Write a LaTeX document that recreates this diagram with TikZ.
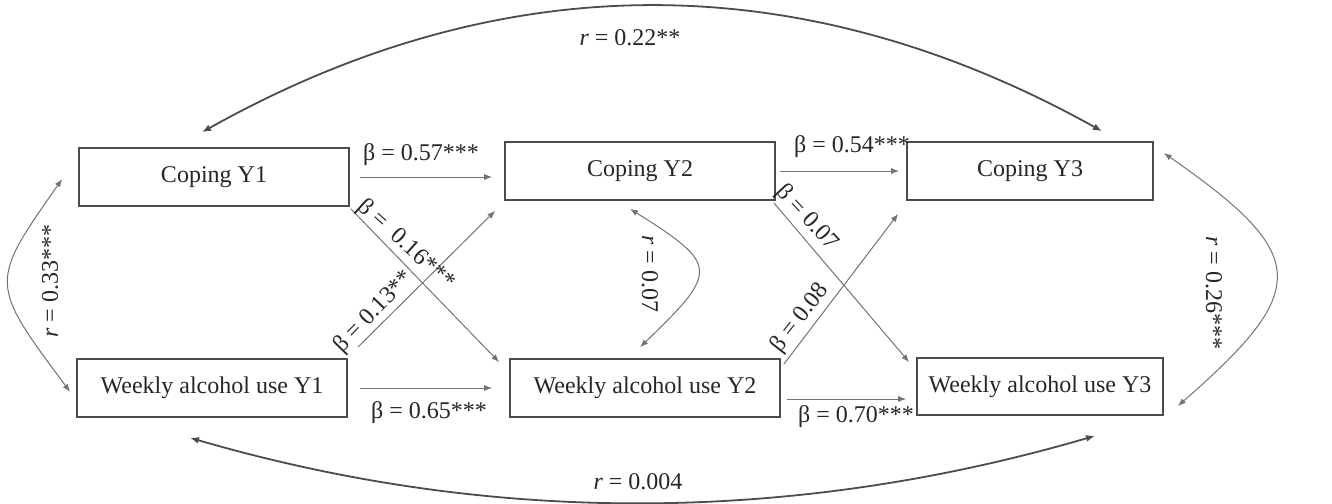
\documentclass[tikz,border=0pt]{standalone}
\usepackage{fontspec}
\setmainfont{Liberation Serif}
\usetikzlibrary{arrows.meta,calc}
\begin{document}
\begin{tikzpicture}[x=0.5pt,y=-0.5pt,
  box/.style={draw=black!70, line width=0.8pt, minimum height=29pt, inner sep=0pt,
    font=\fontsize{12}{14}\selectfont, text=black!85},
  lab/.style={font=\fontsize{12}{14}\selectfont, text=black!85, inner sep=0pt},
  tipstyle/.style={},
  arr/.style={draw=black!55, line width=0.5pt, -{Latex[length=4pt,width=3pt]}},
  corr/.style={draw=black!55, line width=0.5pt, {Latex[length=4pt,width=3pt]}-{Latex[length=4pt,width=3pt]}},
  bigcorr/.style={draw=black!70, line width=0.9pt, {Latex[length=4.5pt,width=3.5pt]}-{Latex[length=4.5pt,width=3.5pt]}}]
\useasboundingbox (0,0) rectangle (1332,503);

% boxes
\node[box, minimum width=135pt] (c1) at (214,177) {Coping Y1\hspace{26pt}};
\node[box, minimum width=135pt] (w1) at (212,388) {Weekly alcohol use Y1};
\node[box, minimum width=135pt] (c2) at (640,171) {Coping Y2\hspace{25pt}};
\node[box, minimum width=135pt] (w2) at (645,388) {Weekly alcohol use Y2};
\node[box, minimum width=123pt] (c3) at (1030,171) {Coping Y3\hspace{10pt}};
\node[box, minimum width=123pt, minimum height=28.5pt] (w3) at (1040,386.5) {Weekly alcohol use Y3};

% horizontal paths
\draw[arr, shorten <=5pt, shorten >=6pt] (c1.east) -- (c1.east -| c2.west);
\draw[arr, shorten <=2pt, shorten >=3.5pt] (c2.east) -- (c2.east -| c3.west);
\draw[arr, shorten <=6pt, shorten >=8.5pt] (w1.east) -- (w1.east -| w2.west);
\coordinate (w23s) at ($(w2.east)+(6,11)$);
\draw[arr, shorten >=5pt] (w23s) -- (w23s -| w3.west);

% diagonal paths
\draw[arr] ($(c1.south east)+(1,2)$) -- ($(w2.north west)+(-10,4)$);
\draw[arr] ($(w1.north east)+(10,-11)$) -- ($(c2.south west)+(-9,10)$);
\draw[arr] ($(c2.south east)+(-2,2)$) -- ($(w3.north west)+(-7,5)$);
\draw[arr] ($(w2.north east)+(3,6)$) -- ($(c3.south west)+(-8,13)$);

% correlations
\draw[corr] ($(c1.west)+(-16,2)$) .. controls +(-73,104) and +(-81,-109) .. ($(w1.west)+(-6,4)$);
\draw[corr] ($(c2.south)+(-10,8)$) .. controls +(89,56) and +(79,-76) .. ($(w2.north)+(-5,-11)$);
\draw[corr] ($(c3.east)+(10,-18)$) .. controls +(147,102) and +(133,-116) .. ($(w3.east)+(14,19.5)$);
\draw[bigcorr] ($(c1.north)+(-12,-15)$) .. controls +(300,-168) and +(-300,-167) .. ($(c3.north)+(72,-10)$);
\draw[bigcorr] ($(w1.south)+(-22,20)$) .. controls +(302,88) and +(-301,88) .. ($(w3.south)+(55,20)$);

% labels
\node[lab] (l57) at (421,155) {β = 0.57***};
\node[lab] (l54) at (852,147) {β = 0.54***};
\node[lab] (l65) at (429,413) {β = 0.65***};
\node[lab] (l70) at (856,417) {β = 0.70***};
\node[lab, rotate=-42] (l16) at (406,245) {β = \ 0.16***};
\node[lab, rotate=46] (l13) at (374,312) {β = 0.13**};
\node[lab, rotate=-47] (l07) at (807,218) {β = 0.07};
\node[lab, rotate=52] (l08) at (800,318) {β = 0.08};
\node[lab, rotate=90] (r33) at (50,281) {\textit{r} = 0.33***};
\node[lab, rotate=-90] (r07) at (650,274) {\textit{r} = 0.07};
\node[lab, rotate=-90] (r26) at (1214,293) {\textit{r} = 0.26***};
\node[lab] (r22) at (630,38) {\textit{r} = 0.22**};
\node[lab] (r004) at (638,482) {\textit{r} = 0.004};
\end{tikzpicture}
\end{document}
